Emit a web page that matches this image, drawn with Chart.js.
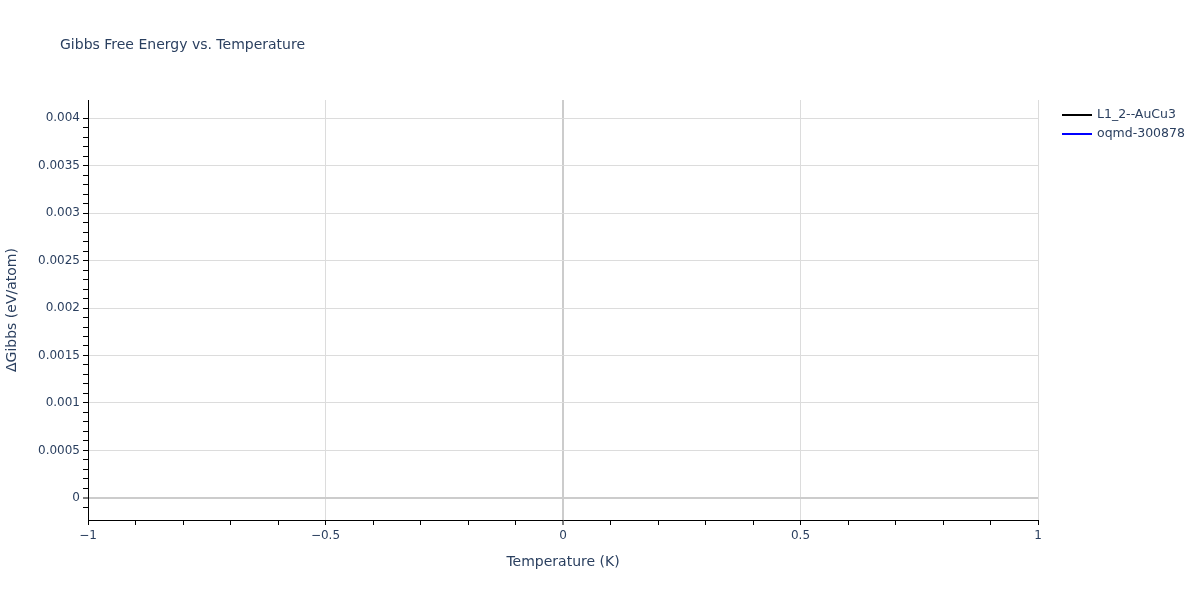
<!DOCTYPE html>
<html>
<head>
<meta charset="utf-8">
<script src="https://cdn.jsdelivr.net/npm/chart.js@4.4.1/dist/chart.umd.min.js"></script>
<style>
  html, body { margin: 0; padding: 0; background: #fff; }
  #wrap { width: 1200px; height: 600px; }
</style>
</head>
<body>
<div id="wrap"><canvas id="grafico" width="1200" height="600"></canvas></div>
<script>
// datos del grafico
var temperaturas = [0];
var gibbsAuCu3 = [0];
var gibbsOqmd = [0];
var nombresSeries = ["L1_2--AuCu3", "oqmd-300878"];
var coloresSeries = ["#000000", "#0000ff"];
var tituloGrafico = "Gibbs Free Energy vs. Temperature";
var tituloX = "Temperature (K)";
var tituloY = "\u0394Gibbs (eV/atom)";

var fuente = "'DejaVu Sans', Verdana, sans-serif";
var colorTexto = "#2a3f5f";

function esMultiplo(v, paso) {
    return Math.abs(v / paso - Math.round(v / paso)) < 1e-6;
}
function soloPasos(paso) {
    return function (scale) {
        scale.ticks = scale.ticks.filter(t => esMultiplo(t.value, paso));
    };
}
function colorRejilla(paso) {
    return function (ctx) {
        if (!ctx.tick) return "rgba(0,0,0,0)";
        var v = ctx.tick.value;
        if (Math.abs(v) < 1e-9) return "#cccccc";
        return esMultiplo(v, paso) ? "#dcdcdc" : "rgba(0,0,0,0)";
    };
}
function anchoRejilla(ctx) {
    if (ctx.tick && Math.abs(ctx.tick.value) < 1e-9) return 2;
    return 1;
}

// titulo y leyenda dibujados a mano
var extras = {
    id: "extras",
    afterDraw: function (chart) {
        var c = chart.ctx;
        c.save();
        c.fillStyle = colorTexto;
        c.font = "14px " + fuente;
        c.textBaseline = "middle";
        c.textAlign = "left";
        c.fillText(tituloGrafico, 60, 45);
        c.font = "12.5px " + fuente;
        chart.data.datasets.forEach(function (ds, i) {
            var y = 115 + i * 19;
            c.strokeStyle = ds.borderColor;
            c.lineWidth = 2;
            c.beginPath();
            c.moveTo(1062, y);
            c.lineTo(1092, y);
            c.stroke();
            c.fillText(ds.label, 1097, y);
        });
        c.restore();
    }
};

new Chart(document.getElementById("grafico"), {
    type: "line",
    data: {
        labels: temperaturas,
        datasets: [
            { label: nombresSeries[0], data: gibbsAuCu3.map((v, i) => ({ x: temperaturas[i], y: v })), borderColor: coloresSeries[0], borderWidth: 2, pointRadius: 0 },
            { label: nombresSeries[1], data: gibbsOqmd.map((v, i) => ({ x: temperaturas[i], y: v })), borderColor: coloresSeries[1], borderWidth: 2, pointRadius: 0 }
        ]
    },
    options: {
        responsive: false,
        animation: false,
        devicePixelRatio: 1,
        layout: { padding: { top: 100, right: 162, left: 0, bottom: 0 } },
        plugins: { legend: { display: false }, title: { display: false }, tooltip: { enabled: false } },
        scales: {
            x: {
                type: "linear",
                min: -1,
                max: 1,
                afterBuildTicks: soloPasos(0.1),
                afterFit: function (s) { s.height = 80; },
                ticks: {
                    stepSize: 0.1,
                    autoSkip: false,
                    maxRotation: 0,
                    color: colorTexto,
                    font: { family: fuente, size: 12 },
                    padding: 4,
                    callback: function (v) {
                        if (!esMultiplo(v, 0.5)) return "";
                        var r = Math.round(v * 2) / 2;
                        return r < 0 ? "\u2212" + Math.abs(r) : String(r);
                    }
                },
                grid: { color: colorRejilla(0.5), lineWidth: anchoRejilla, tickColor: "#000", tickLength: 5, tickWidth: 1, drawTicks: true },
                border: { display: true, color: "#000", width: 1 },
                title: { display: true, text: tituloX, color: colorTexto, font: { family: fuente, size: 14 }, padding: { top: 4, bottom: 29 } }
            },
            y: {
                type: "linear",
                min: -0.0002316,
                max: 0.0041895,
                afterBuildTicks: soloPasos(0.0001),
                afterFit: function (s) { s.width = 88; },
                ticks: {
                    stepSize: 0.0001,
                    autoSkip: false,
                    color: colorTexto,
                    font: { family: fuente, size: 12 },
                    padding: 3,
                    callback: function (v) {
                        if (!esMultiplo(v, 0.0005)) return "";
                        return String(Number(v.toFixed(4)));
                    }
                },
                grid: { color: colorRejilla(0.0005), lineWidth: anchoRejilla, tickColor: "#000", tickLength: 5, tickWidth: 1, drawTicks: true },
                border: { display: true, color: "#000", width: 1 },
                title: { display: true, text: tituloY, color: colorTexto, font: { family: fuente, size: 14 }, padding: { top: 4, bottom: 0 } }
            }
        }
    },
    plugins: [extras]
});
</script>
</body>
</html>
